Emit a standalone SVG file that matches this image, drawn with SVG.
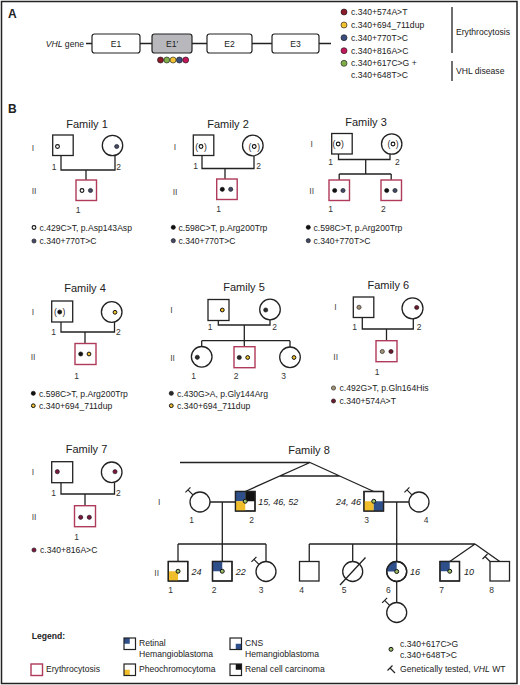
<svg xmlns="http://www.w3.org/2000/svg" xmlns:xlink="http://www.w3.org/1999/xlink" width="520" height="685" viewBox="0 0 520 685">
<defs>
<style>
text{font-family:"Liberation Sans",Arial,sans-serif;fill:#222}
.ttl{font-size:11px;text-anchor:middle}
.pl{font-size:12px;font-weight:bold}
.gen{font-size:8.5px;fill:#444;text-anchor:middle}
.num{font-size:8.5px;fill:#333;text-anchor:middle}
.lg{font-size:8.6px}
.it{font-style:italic}
.age{font-size:9px;font-style:italic}
.par{font-size:8.5px;text-anchor:middle}
.sym{fill:#fff;stroke:#222;stroke-width:1.3}
.ery{fill:#fff;stroke:#b03a5a;stroke-width:1.4}
.ln{fill:none;stroke:#222;stroke-width:1.3}
.box{fill:#fff;stroke:#222;stroke-width:1.2}
.d{stroke:#111;stroke-width:0.6}
.open{fill:#fff;stroke:#111;stroke-width:1.1}
.blk{fill:#111}
.sl{fill:#444a66}
.yr{fill:#f0c030;stroke:#111;stroke-width:1}
.dk{fill:#2a2a2a}
.tan{fill:#a49276}
.mr{fill:#6a1a2c}
.mg{fill:#7a1840}
.gr{fill:#9cc06a;stroke:#111;stroke-width:1}
.bl{fill:#2e4f8a}
.yl{fill:#f0be2a}
.bk{fill:#111}
.tm{fill:none;stroke:#222;stroke-width:1.2}
</style>
<path id="tm" class="tm" d="M0,0 L-5,-5 M-7.5,-2.5 L-2.5,-7.5"/>
</defs>
<rect x="1.5" y="1.5" width="515.5" height="682" fill="#fff" stroke="#222" stroke-width="1.5"/>

<!-- Panel A -->
<g id="panelA">
<text class="pl" x="8" y="18">A</text>
<text class="lg" x="84" y="46.5" text-anchor="end"><tspan class="it">VHL</tspan> gene</text>
<line class="ln" x1="86" y1="43.5" x2="331" y2="43.5"/>
<g id="exonE1"><rect class="box" x="92" y="34" width="48" height="19" rx="2.5"/><text class="lg" x="116" y="46.5" text-anchor="middle">E1</text></g>
<g id="exonE1p"><rect class="box" x="152" y="34" width="40" height="19" rx="2.5" style="fill:#b8b8bc"/><text class="lg" x="172" y="46.5" text-anchor="middle">E1′</text></g>
<g id="exonE2"><rect class="box" x="207" y="34" width="45" height="19" rx="2.5"/><text class="lg" x="229.5" y="46.5" text-anchor="middle">E2</text></g>
<g id="exonE3"><rect class="box" x="272" y="34" width="47" height="19" rx="2.5"/><text class="lg" x="295.5" y="46.5" text-anchor="middle">E3</text></g>
<g id="variantDots">
<circle class="d" cx="160.5" cy="60" r="3" fill="#8b1a2b"/>
<circle class="d" cx="166.8" cy="60" r="3" fill="#7fae4a"/>
<circle class="d" cx="173.1" cy="60" r="3" fill="#f2c233"/>
<circle class="d" cx="179.4" cy="60" r="3" fill="#3a4d7d"/>
<circle class="d" cx="185.7" cy="60" r="3" fill="#c2185b"/>
</g>
<g id="variantLegend">
<circle class="d" cx="344" cy="12" r="3" fill="#8b1a2b"/><text class="lg" x="351" y="15">c.340+574A&gt;T</text>
<circle class="d" cx="344" cy="25" r="3" fill="#f2c233"/><text class="lg" x="351" y="28">c.340+694_711dup</text>
<circle class="d" cx="344" cy="37.7" r="3" fill="#3a4d7d"/><text class="lg" x="351" y="40.7">c.340+770T&gt;C</text>
<circle class="d" cx="344" cy="50.7" r="3" fill="#c2185b"/><text class="lg" x="351" y="53.7">c.340+816A&gt;C</text>
<circle class="d" cx="344" cy="63.3" r="3" fill="#7fae4a"/><text class="lg" x="351" y="66.3">c.340+617C&gt;G +</text>
<text class="lg" x="351" y="78.3">c.340+648T&gt;C</text>
<line class="ln" x1="452" y1="7" x2="452" y2="53"/>
<line class="ln" x1="452" y1="61" x2="452" y2="81"/>
<text class="lg" x="456" y="35">Erythrocytosis</text>
<text class="lg" x="456" y="74">VHL disease</text>
</g>
</g>

<text class="pl" x="8" y="113">B</text>

<!-- Connectors -->
<g id="connectors">
<path class="ln" d="M61,155.5 V170 H115 V155.4 M86,170 V180"/>
<path class="ln" d="M202,155.5 V168.5 H254 V155.7 M225,168.5 V179"/>
<path class="ln" d="M338.5,154 V159.5 H390 V154.2 M365.7,159.5 V174 M339.2,174 H391.2 M339.2,174 V180 M391.2,174 V180"/>
<path class="ln" d="M61,322 V332 H114.5 V321.9 M85,332 V343.5"/>
<path class="ln" d="M218.3,320.5 V325 H270 V319.8 M244.3,325 V346.7 M201.7,340.7 H290 M201.7,340.7 V346.5 M290,340.7 V347"/>
<path class="ln" d="M362.3,317.5 V329 H413.3 V318.8 M386.5,329 V340.7"/>
<path class="ln" d="M61,482.7 V494 H114.5 V482.4 M85,494 V505.7"/>
<path class="ln" d="M180,462.5 H310 L245.25,491.5 M310,462.5 L373.75,491.5 M279.9,476 H339.7"/>
<path class="ln" d="M210,502 H235.5 M383.5,502 H409 M222.3,502 V561.5 M178,544 H266 M178,544 V561.5 M266,544 V561.5"/>
<path class="ln" d="M396.7,502 V561.5 M309.25,544 H475 M309.25,544 V561.5 M352.7,544 V561.5 M475,544 L449.75,561.5 M475,544 L499.75,561.5 M396.7,581.5 V602"/>
</g>

<!-- Family 1 -->
<g id="family1">
<text class="ttl" x="87" y="127.5">Family 1</text>
<text class="gen" x="33" y="151.3">I</text><text class="gen" x="34" y="194.3">II</text>
<g id="f1-I1"><rect class="sym" x="52.7" y="135" width="20.5" height="20.5"/><circle class="open" cx="57.5" cy="146.5" r="1.9"/><text class="num" x="54" y="170">1</text></g>
<g id="f1-I2"><circle class="sym" cx="112.5" cy="145.5" r="10.2"/><circle class="d sl" cx="116.7" cy="146.5" r="2.1"/><text class="num" x="118.5" y="170">2</text></g>
<g id="f1-II1"><rect class="ery" x="76" y="180" width="20.5" height="20.5"/><circle class="open" cx="82" cy="190.5" r="1.9"/><circle class="d sl" cx="90.5" cy="190.5" r="2.1"/><text class="num" x="78" y="213">1</text></g>
<g id="f1-legend"><circle class="open" cx="34" cy="227.5" r="1.9"/><text class="lg" x="39.5" y="230.5">c.429C&gt;T, p.Asp143Asp</text>
<circle class="d sl" cx="34" cy="241" r="2.1"/><text class="lg" x="39.5" y="244">c.340+770T&gt;C</text></g>
</g>

<!-- Family 2 -->
<g id="family2">
<text class="ttl" x="228" y="127.5">Family 2</text>
<text class="gen" x="175" y="149.7">I</text><text class="gen" x="175" y="194.5">II</text>
<g id="f2-I1"><rect class="sym" x="193.3" y="135" width="20.5" height="20.5"/><text class="par" x="196.7" y="149.5">(</text><circle class="open" cx="201" cy="146.5" r="1.9"/><text class="par" x="205.3" y="149.5">)</text><text class="num" x="195.5" y="168.5">1</text></g>
<g id="f2-I2"><circle class="sym" cx="252.8" cy="145.5" r="10.3"/><text class="par" x="249.8" y="149.5">(</text><circle class="open" cx="254.2" cy="146.5" r="1.9"/><text class="par" x="258.6" y="149.5">)</text><text class="num" x="258.5" y="168.5">2</text></g>
<g id="f2-II1"><rect class="ery" x="216.7" y="179" width="20.5" height="20.5"/><circle class="d blk" cx="222.3" cy="189.3" r="2.1"/><circle class="d sl" cx="230.7" cy="189.3" r="2.1"/><text class="num" x="218.5" y="211.5">1</text></g>
<g id="f2-legend"><circle class="d blk" cx="173.3" cy="227.3" r="2.1"/><text class="lg" x="178.5" y="230.5">c.598C&gt;T, p.Arg200Trp</text>
<circle class="d sl" cx="173.3" cy="240.7" r="2.1"/><text class="lg" x="178.5" y="244">c.340+770T&gt;C</text></g>
</g>

<!-- Family 3 -->
<g id="family3">
<text class="ttl" x="366" y="126">Family 3</text>
<text class="gen" x="311.7" y="147">I</text><text class="gen" x="311.7" y="194">II</text>
<g id="f3-I1"><rect class="sym" x="331.7" y="133.5" width="20.5" height="20.5"/><text class="par" x="334" y="147">(</text><circle class="open" cx="338.2" cy="144" r="1.9"/><text class="par" x="342.4" y="147">)</text><text class="num" x="330.7" y="164.5">1</text></g>
<g id="f3-I2"><circle class="sym" cx="391.7" cy="144" r="10.2"/><text class="par" x="388.8" y="147">(</text><circle class="open" cx="393" cy="144" r="1.9"/><text class="par" x="397.2" y="147">)</text><text class="num" x="397.3" y="164.5">2</text></g>
<g id="f3-II1"><rect class="ery" x="329" y="180" width="20.5" height="20.5"/><circle class="d blk" cx="334.7" cy="190.5" r="2.1"/><circle class="d sl" cx="343" cy="190.5" r="2.1"/><text class="num" x="330.5" y="211.5">1</text></g>
<g id="f3-II2"><rect class="ery" x="381" y="180" width="20.5" height="20.5"/><circle class="d blk" cx="386.7" cy="190.5" r="2.1"/><circle class="d sl" cx="395" cy="190.5" r="2.1"/><text class="num" x="383.3" y="211.5">2</text></g>
<g id="f3-legend"><circle class="d blk" cx="308.3" cy="227.3" r="2.1"/><text class="lg" x="313.5" y="230.5">c.598C&gt;T, p.Arg200Trp</text>
<circle class="d sl" cx="308.3" cy="240.7" r="2.1"/><text class="lg" x="313.5" y="244">c.340+770T&gt;C</text></g>
</g>

<!-- Family 4 -->
<g id="family4">
<text class="ttl" x="85" y="291.5">Family 4</text>
<text class="gen" x="33" y="315">I</text><text class="gen" x="33" y="359.5">II</text>
<g id="f4-I1"><rect class="sym" x="51.7" y="301" width="21" height="21"/><text class="par" x="55.5" y="315">(</text><circle class="d blk" cx="59.7" cy="312" r="2.1"/><text class="par" x="64" y="315">)</text><text class="num" x="53.5" y="335">1</text></g>
<g id="f4-I2"><circle class="sym" cx="111.7" cy="312" r="10.3"/><circle class="yr" cx="115" cy="312.3" r="1.9"/><text class="num" x="118.3" y="335">2</text></g>
<g id="f4-II1"><rect class="ery" x="75" y="343.5" width="21" height="21"/><circle class="d blk" cx="80.7" cy="354" r="2.1"/><circle class="yr" cx="89" cy="354" r="1.9"/><text class="num" x="76.5" y="379">1</text></g>
<g id="f4-legend"><circle class="d blk" cx="33.3" cy="393.3" r="2.1"/><text class="lg" x="39" y="396.5">c.598C&gt;T, p.Arg200Trp</text>
<circle class="yr" cx="33.3" cy="405.7" r="1.9"/><text class="lg" x="39" y="409">c.340+694_711dup</text></g>
</g>

<!-- Family 5 -->
<g id="family5">
<text class="ttl" x="244" y="290.7">Family 5</text>
<text class="gen" x="171.5" y="313">I</text><text class="gen" x="172.5" y="361.3">II</text>
<g id="f5-I1"><rect class="sym" x="208" y="299.5" width="21" height="21"/><circle class="yr" cx="222.3" cy="310" r="1.9"/><text class="num" x="210" y="330">1</text></g>
<g id="f5-I2"><circle class="sym" cx="270" cy="309.5" r="10.3"/><circle class="d dk" cx="265.7" cy="310" r="2.1"/><text class="num" x="274.5" y="330">2</text></g>
<g id="f5-II1"><circle class="sym" cx="201.7" cy="356.8" r="10.3"/><circle class="d dk" cx="197.3" cy="357.3" r="2.1"/><text class="num" x="193.5" y="379">1</text></g>
<g id="f5-II2"><rect class="ery" x="234" y="346.7" width="21" height="21"/><circle class="d dk" cx="239.3" cy="357.5" r="2.1"/><circle class="yr" cx="247.7" cy="357.5" r="1.9"/><text class="num" x="236" y="379">2</text></g>
<g id="f5-II3"><circle class="sym" cx="290" cy="357.3" r="10.3"/><circle class="yr" cx="294" cy="357.5" r="1.9"/><text class="num" x="283.5" y="379">3</text></g>
<g id="f5-legend"><circle class="d dk" cx="171.3" cy="393.3" r="2.1"/><text class="lg" x="177" y="396.5">c.430G&gt;A, p.Gly144Arg</text>
<circle class="yr" cx="171.3" cy="405.7" r="1.9"/><text class="lg" x="177" y="409">c.340+694_711dup</text></g>
</g>

<!-- Family 6 -->
<g id="family6">
<text class="ttl" x="388.3" y="289">Family 6</text>
<text class="gen" x="335.5" y="310.3">I</text><text class="gen" x="335.7" y="360.3">II</text>
<g id="f6-I1"><rect class="sym" x="353.3" y="297" width="20.5" height="20.5"/><circle class="d tan" cx="359" cy="307.3" r="2.1"/><text class="num" x="354.5" y="330">1</text></g>
<g id="f6-I2"><circle class="sym" cx="412.5" cy="308.3" r="10.5"/><circle class="d mr" cx="416.7" cy="307.5" r="2.1"/><text class="num" x="419" y="330">2</text></g>
<g id="f6-II1"><rect class="ery" x="376" y="340.7" width="21" height="21"/><circle class="d tan" cx="382.3" cy="351.5" r="2.1"/><circle class="d mr" cx="391" cy="351.5" r="2.1"/><text class="num" x="377" y="374.7">1</text></g>
<g id="f6-legend"><circle class="d tan" cx="333.5" cy="388" r="2.1"/><text class="lg" x="339.5" y="391">c.492G&gt;T, p.Gln164His</text>
<circle class="d mr" cx="333.5" cy="401" r="2.1"/><text class="lg" x="339.5" y="404">c.340+574A&gt;T</text></g>
</g>

<!-- Family 7 -->
<g id="family7">
<text class="ttl" x="86.5" y="453.3">Family 7</text>
<text class="gen" x="33" y="474.7">I</text><text class="gen" x="34" y="519.7">II</text>
<g id="f7-I1"><rect class="sym" x="51.7" y="461.7" width="21" height="21"/><circle class="d mg" cx="57.3" cy="471.7" r="2.1"/><text class="num" x="53.5" y="496.3">1</text></g>
<g id="f7-I2"><circle class="sym" cx="111.7" cy="472.3" r="10.3"/><circle class="d mg" cx="115" cy="471.7" r="2.1"/><text class="num" x="118.3" y="496.3">2</text></g>
<g id="f7-II1"><rect class="ery" x="74.5" y="505.7" width="21" height="21"/><circle class="d mg" cx="80.7" cy="517.3" r="2.1"/><circle class="d mg" cx="89.3" cy="517.3" r="2.1"/><text class="num" x="76.5" y="539.7">1</text></g>
<g id="f7-legend"><circle class="d mg" cx="34" cy="550" r="2.1"/><text class="lg" x="40" y="553">c.340+816A&gt;C</text></g>
</g>

<!-- Family 8 -->
<g id="family8">
<text class="ttl" x="309" y="453.7">Family 8</text>
<text class="gen" x="159.3" y="505">I</text><text class="gen" x="156.7" y="576.3">II</text>
<g id="f8-I1"><circle class="sym" cx="200" cy="502" r="10"/><use xlink:href="#tm" href="#tm" x="192.93" y="494.93"/><text class="num" x="191.7" y="523">1</text></g>
<g id="f8-I2"><rect class="sym" x="235.5" y="491.5" width="19.5" height="19.5"/><rect class="bl" x="235.5" y="491.5" width="9.75" height="9.75"/><rect class="bk" x="245.25" y="491.5" width="9.75" height="9.75"/><rect class="yl" x="235.5" y="501.25" width="9.75" height="9.75"/><rect x="235.5" y="491.5" width="19.5" height="19.5" fill="none" stroke="#222" stroke-width="1.3"/><circle class="gr" cx="245.25" cy="501.25" r="2"/><text class="age" x="258.3" y="505">15, 46, 52</text><text class="num" x="251.7" y="523">2</text></g>
<g id="f8-I3"><rect class="sym" x="364" y="491.5" width="19.5" height="19.5"/><rect class="yl" x="364" y="501.25" width="9.75" height="9.75"/><rect class="bl" x="373.75" y="501.25" width="9.75" height="9.75"/><rect x="364" y="491.5" width="19.5" height="19.5" fill="none" stroke="#222" stroke-width="1.3"/><circle class="gr" cx="373.75" cy="501.25" r="2"/><text class="age" x="361" y="505" text-anchor="end">24, 46</text><text class="num" x="366.7" y="523">3</text></g>
<g id="f8-I4"><circle class="sym" cx="419" cy="502" r="10"/><use xlink:href="#tm" href="#tm" x="411.93" y="494.93"/><text class="num" x="426" y="523">4</text></g>
<g id="f8-II1"><rect class="sym" x="168.3" y="561.5" width="19.5" height="19.5"/><rect class="yl" x="168.3" y="571.25" width="9.75" height="9.75"/><rect x="168.3" y="561.5" width="19.5" height="19.5" fill="none" stroke="#222" stroke-width="1.3"/><circle class="gr" cx="178.05" cy="571.25" r="2"/><text class="age" x="191.5" y="574.5">24</text><text class="num" x="170.7" y="592.5">1</text></g>
<g id="f8-II2"><rect class="sym" x="212.5" y="561.5" width="19.5" height="19.5"/><rect class="bl" x="212.5" y="561.5" width="9.75" height="9.75"/><rect x="212.5" y="561.5" width="19.5" height="19.5" fill="none" stroke="#222" stroke-width="1.3"/><circle class="gr" cx="222.25" cy="571.25" r="2"/><text class="age" x="235.7" y="574.5">22</text><text class="num" x="214" y="592.5">2</text></g>
<g id="f8-II3"><circle class="sym" cx="266" cy="571.5" r="10"/><use xlink:href="#tm" href="#tm" x="258.93" y="564.43"/><text class="num" x="261" y="592.5">3</text></g>
<g id="f8-II4"><rect class="sym" x="299.5" y="561.5" width="19.5" height="19.5"/><text class="num" x="301.7" y="592.5">4</text></g>
<g id="f8-II5"><circle class="sym" cx="352.7" cy="571.5" r="10"/><line class="ln" x1="340" y1="585" x2="365.5" y2="557.5"/><text class="num" x="344" y="592.5">5</text></g>
<g id="f8-II6"><circle class="sym" cx="396.7" cy="571.5" r="10"/><path class="bl" d="M396.7,571.5 L386.7,571.5 A10,10 0 0 1 396.7,561.5 Z"/><circle cx="396.7" cy="571.5" r="10" fill="none" stroke="#222" stroke-width="1.3"/><circle class="gr" cx="396.7" cy="571.5" r="2"/><text class="age" x="410" y="574.5">16</text><text class="num" x="388.3" y="592.5">6</text></g>
<g id="f8-II7"><rect class="sym" x="440" y="561.5" width="19.5" height="19.5"/><rect class="bl" x="440" y="561.5" width="9.75" height="9.75"/><rect x="440" y="561.5" width="19.5" height="19.5" fill="none" stroke="#222" stroke-width="1.3"/><circle class="gr" cx="449.75" cy="571.25" r="2"/><text class="age" x="464" y="574.5">10</text><text class="num" x="441.7" y="592.5">7</text></g>
<g id="f8-II8"><rect class="sym" x="490" y="561.5" width="19.5" height="19.5"/><use xlink:href="#tm" href="#tm" x="490" y="561.5"/><text class="num" x="491.7" y="592.5">8</text></g>
<g id="f8-III1"><circle class="sym" cx="396.7" cy="612.5" r="10"/><use xlink:href="#tm" href="#tm" x="389.63" y="605.43"/></g>
</g>

<!-- Legend -->
<g id="legend">
<text class="lg" x="31.7" y="639" style="font-weight:bold">Legend:</text>
<g id="lg-retinal"><rect x="124" y="638" width="11.5" height="11.5" fill="#fff"/><rect class="bl" x="124" y="638" width="5.75" height="5.75"/><rect x="124" y="638" width="11.5" height="11.5" fill="none" stroke="#222" stroke-width="1.2"/><text class="lg" x="139" y="646.3">Retinal</text><text class="lg" x="139" y="657.3">Hemangioblastoma</text></g>
<g id="lg-cns"><rect x="230" y="638" width="11.5" height="11.5" fill="#fff"/><rect class="bl" x="235.75" y="643.75" width="5.75" height="5.75"/><rect x="230" y="638" width="11.5" height="11.5" fill="none" stroke="#222" stroke-width="1.2"/><text class="lg" x="245" y="646.3">CNS</text><text class="lg" x="245" y="657.3">Hemangioblastoma</text></g>
<g id="lg-ery"><rect class="ery" x="31" y="664" width="11.5" height="11.5"/><text class="lg" x="46" y="672.3">Erythrocytosis</text></g>
<g id="lg-pheo"><rect x="124" y="664" width="11.5" height="11.5" fill="#fff"/><rect class="yl" x="124" y="669.75" width="5.75" height="5.75"/><rect x="124" y="664" width="11.5" height="11.5" fill="none" stroke="#222" stroke-width="1.2"/><text class="lg" x="139" y="672.3">Pheochromocytoma</text></g>
<g id="lg-rcc"><rect x="230" y="664" width="11.5" height="11.5" fill="#fff"/><rect class="bk" x="235.75" y="664" width="5.75" height="5.75"/><rect x="230" y="664" width="11.5" height="11.5" fill="none" stroke="#222" stroke-width="1.2"/><text class="lg" x="245" y="672.3">Renal cell carcinoma</text></g>
<g id="lg-var"><circle class="gr" cx="391" cy="649.3" r="2"/><text class="lg" x="400" y="646.5">c.340+617C&gt;G</text><text class="lg" x="400" y="657.5">c.340+648T&gt;C</text></g>
<g id="lg-tested"><use xlink:href="#tm" href="#tm" x="395" y="673"/><text class="lg" x="400" y="672.3">Genetically tested, <tspan class="it">VHL</tspan> WT</text></g>
</g>
</svg>
